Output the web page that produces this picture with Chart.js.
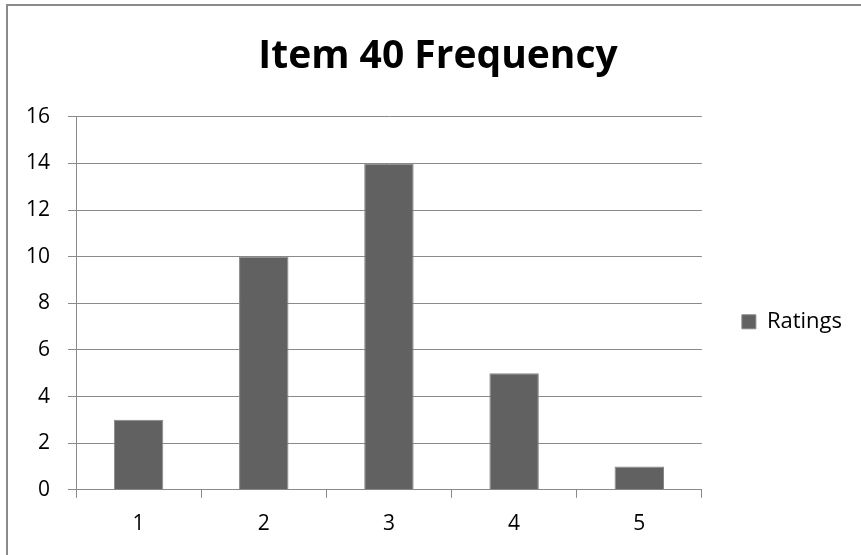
<!DOCTYPE html>
<html>
<head>
<meta charset="utf-8">
<title>Item 40 Frequency</title>
<script src="https://cdn.jsdelivr.net/npm/chart.js@4/dist/chart.umd.min.js"></script>
<style>
  html, body { margin: 0; padding: 0; background: #fff; overflow: hidden; }
  #frame {
    position: absolute; left: 6px; top: 4px; width: 900px; height: 600px;
    border-left: 2px solid #8a8a8a; border-top: 2px solid #8a8a8a;
  }
  #wrap { position: absolute; left: 0; top: 0; width: 861px; height: 555px; }
</style>
</head>
<body>
<div id="frame"></div>
<div id="wrap"><canvas id="grafikItem40"></canvas></div>
<script>
const kategori = ['1', '2', '3', '4', '5'];
const frekuensi = [3, 10, 14, 5, 1];
const namaSeri = 'Ratings';
const judul = 'Item 40 Frequency';

const abu = '#8a8a8a';
const huruf = '"Open Sans", Lato, sans-serif';

const ctx = document.getElementById('grafikItem40').getContext('2d');
window.chartItem = new Chart(ctx, {
  type: 'bar',
  data: {
    labels: kategori,
    datasets: [{
      label: namaSeri,
      data: frekuensi,
      backgroundColor: '#616161',
      borderColor: '#878787',
      borderWidth: 1,
      categoryPercentage: 1,
      barPercentage: 0.395
    }]
  },
  options: {
    responsive: true,
    maintainAspectRatio: false,
    animation: false,
    layout: { padding: { left: 24, right: 9, top: 0, bottom: 4 } },
    plugins: {
      tooltip: { enabled: false },
      title: {
        display: true,
        text: judul,
        color: '#000',
        font: { family: huruf, size: 39, weight: 'bold' },
        padding: { top: 33, bottom: 37 }
      },
      legend: {
        position: 'right',
        fullSize: false,
        // empty title only pushes the item a bit below the middle
        title: { display: true, text: '', font: { size: 10 }, padding: { top: 25, bottom: 0 } },
        labels: {
          color: '#000',
          font: { family: huruf, size: 22 },
          boxWidth: 14,
          boxHeight: 14,
          padding: 40
        }
      }
    },
    scales: {
      x: {
        grid: { drawOnChartArea: false, drawTicks: true, tickLength: 8, color: abu, offset: true },
        border: { color: abu, width: 1 },
        ticks: { color: '#000', font: { family: huruf, size: 21 }, padding: 14 }
      },
      y: {
        min: 0,
        max: 16,
        grid: { color: abu, tickLength: 8, lineWidth: 1 },
        border: { color: abu, width: 1 },
        ticks: { stepSize: 2, color: '#000', font: { family: huruf, size: 21 }, padding: 18 },
        afterFit: function(scale) { scale.width = 52; }
      }
    }
  }
});
</script>
</body>
</html>
